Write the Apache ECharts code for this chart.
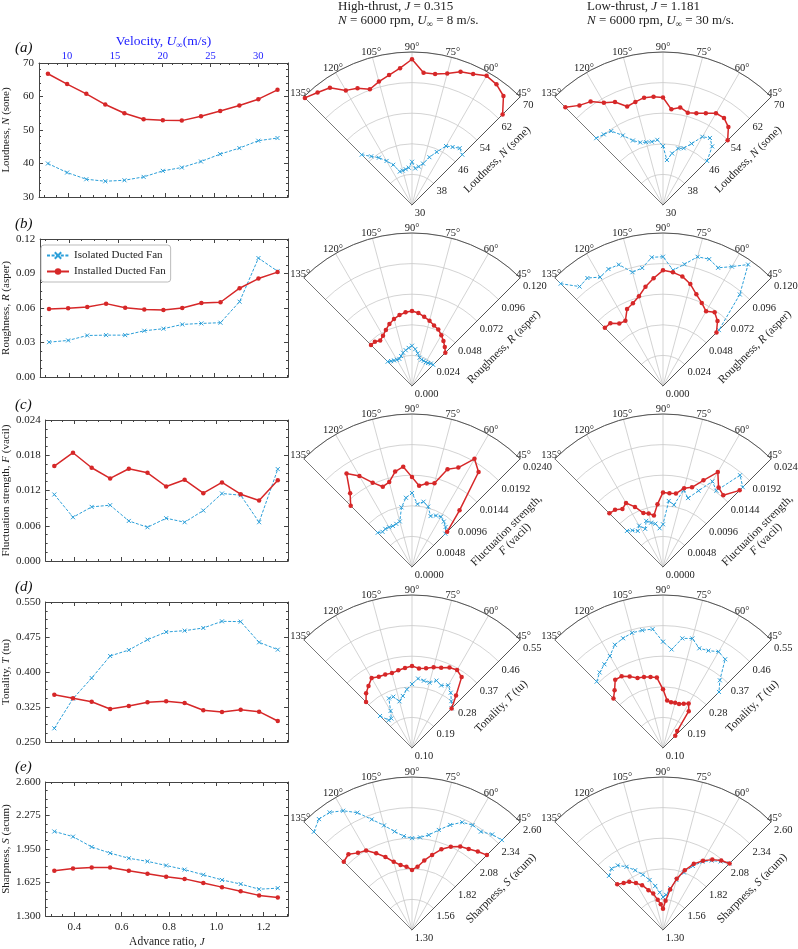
<!DOCTYPE html>
<html><head><meta charset="utf-8">
<script src="https://cdn.jsdelivr.net/npm/echarts@6/dist/echarts.min.js"></script>
<style>html,body{margin:0;padding:0;background:#fff}#c{width:798px;height:949px}</style>
</head><body><div id="c"></div>
<script>
// ---------------- data ----------------
const VEL = [8,10,12,14,16,18,20,22,24,26,28,30,32];
const J = [0.315,0.394,0.473,0.551,0.630,0.709,0.788,0.866,0.945,1.024,1.103,1.181,1.260];
const J_TICKS = [0.4,0.6,0.8,1.0,1.2];
const VEL_TICKS = [10,15,20,25,30];
const ANG = [135,130,125,120,115,110,105,100,95,90,85,80,75,70,65,60,55,50,45];
const ANG_TICKS = [45,60,75,90,105,120,135];

// left column (vs advance ratio)
const ISO_N = [40.0,37.3,35.3,34.7,35.0,36.0,37.8,38.8,40.6,42.8,44.6,46.8,47.6];
const INS_N = [66.8,63.7,60.8,57.6,55.0,53.2,52.9,52.8,54.1,55.7,57.3,59.2,62.0];
const ISO_R = [0.0303,0.0318,0.0361,0.0364,0.0364,0.0402,0.0420,0.0457,0.0466,0.0472,0.0655,0.1034,0.0920];
const INS_R = [0.0591,0.0597,0.0609,0.0638,0.0603,0.0588,0.0583,0.0600,0.0644,0.0650,0.0772,0.0856,0.0912];
const ISO_F = [0.01132,0.00745,0.00921,0.00950,0.00682,0.00574,0.00728,0.00660,0.00859,0.01149,0.01120,0.00660,0.01564];
const INS_F = [0.01615,0.01843,0.01587,0.01405,0.01570,0.01501,0.01268,0.01382,0.01155,0.01337,0.01137,0.01030,0.01376];
const ISO_T = [0.2793,0.3429,0.3871,0.4343,0.4471,0.4693,0.4857,0.4886,0.4943,0.5086,0.5079,0.4636,0.4479];
const INS_T = [0.3514,0.3436,0.3364,0.3207,0.3271,0.3350,0.3371,0.3336,0.3179,0.3143,0.3193,0.3150,0.2950];
const ISO_S = [2.12,2.07,1.97,1.91,1.86,1.83,1.79,1.75,1.70,1.65,1.61,1.56,1.57];
const INS_S = [1.74,1.76,1.77,1.77,1.74,1.71,1.68,1.66,1.62,1.58,1.54,1.50,1.48];

// polar, high thrust (J = 0.315)
const HI_INS_N = [69.6,68.4,67.4,64.6,63.7,62.2,63.4,64.5,65.9,68.1,64.7,64.8,65.6,67.1,67.8,69.0,68.5,67.2,63.5];
const HI_ISO_N = [48.6,46.6,45.1,43.3,41.6,39.3,39.3,39.5,39.8,41.3,39.6,40.2,41.2,43.3,45.3,47.8,48.5,49.4,48.6];
const HI_INS_R = [0.0455,0.0453,0.0435,0.0455,0.0485,0.0518,0.0545,0.0565,0.0580,0.0588,0.0575,0.0551,0.0530,0.0505,0.0488,0.0460,0.0430,0.0400,0.0370];
const HI_ISO_R = [0.0270,0.0255,0.0245,0.0238,0.0235,0.0250,0.0270,0.0285,0.0300,0.0316,0.0290,0.0260,0.0230,0.0220,0.0218,0.0215,0.0220,0.0230,0.0235];
const HI_INS_F = [0.0136,0.0151,0.0179,0.0165,0.0146,0.0134,0.0138,0.0152,0.0158,0.0141,0.0128,0.0133,0.0136,0.0163,0.0172,0.0196,0.0182,0.0116,0.0078];
const HI_ISO_F = [0.0076,0.0072,0.0073,0.0072,0.0071,0.0072,0.0074,0.0095,0.0109,0.0116,0.0099,0.0104,0.0098,0.0085,0.0089,0.0091,0.0087,0.0082,0.0074];
const HI_INS_T = [0.291,0.310,0.323,0.3375,0.331,0.330,0.328,0.332,0.336,0.341,0.335,0.338,0.346,0.351,0.361,0.365,0.3545,0.3015,0.2647];
const HI_ISO_T = [0.233,0.207,0.206,0.226,0.261,0.2606,0.242,0.2554,0.273,0.288,0.305,0.301,0.299,0.311,0.303,0.313,0.2986,0.280,0.265];
const HI_INS_S = [2.12,2.14,2.10,2.08,2.02,1.96,1.90,1.86,1.84,1.81,1.84,1.90,1.96,2.03,2.08,2.12,2.14,2.17,2.20];
const HI_ISO_S = [2.48,2.53,2.52,2.47,2.40,2.30,2.22,2.15,2.10,2.08,2.09,2.12,2.18,2.25,2.31,2.33,2.32,2.36,2.38];

// polar, low thrust (J = 1.181)
const LO_INS_N = [66.1,64.0,63.0,60.9,59.7,57.4,57.9,58.5,58.4,58.1,55.1,55.9,55.0,55.5,56.5,57.7,57.8,56.6,53.9];
const LO_ISO_N = [54.7,54.1,53.6,51.0,48.6,47.4,47.0,46.8,47.1,45.4,41.8,43.7,45.3,45.8,47.7,50.6,51.4,50.0,46.3];
const LO_INS_R = [0.0645,0.0642,0.0598,0.0590,0.0667,0.0690,0.0729,0.0791,0.0848,0.0907,0.0895,0.0873,0.0828,0.0765,0.0719,0.0676,0.0706,0.0665,0.0593];
const LO_ISO_R = [0.1135,0.1018,0.1034,0.0986,0.1012,0.1013,0.0924,0.0940,0.1013,0.1014,0.0912,0.0970,0.1049,0.1059,0.1023,0.1081,0.1163,0.0937,0.0620];
const LO_INS_F = [0.0119,0.0117,0.0111,0.0116,0.0104,0.0090,0.0087,0.0082,0.0099,0.0117,0.0116,0.0117,0.0128,0.0133,0.0150,0.0172,0.0152,0.0147,0.0170];
const LO_ISO_F = [0.0080,0.0075,0.0069,0.0075,0.0066,0.0077,0.0072,0.0069,0.0061,0.0067,0.0104,0.0099,0.0125,0.0115,0.0132,0.0155,0.0146,0.0188,0.0177];
const LO_INS_T = [0.306,0.3215,0.345,0.3435,0.332,0.319,0.316,0.3117,0.308,0.2725,0.240,0.237,0.238,0.238,0.244,0.251,0.232,0.165,0.151];
const LO_ISO_T = [0.376,0.390,0.4006,0.4125,0.435,0.4435,0.4507,0.4515,0.451,0.4127,0.391,0.4274,0.4335,0.412,0.416,0.427,0.4187,0.360,0.333];
const LO_INS_S = [1.85,1.82,1.80,1.76,1.72,1.66,1.62,1.56,1.52,1.48,1.55,1.65,1.75,1.84,1.92,1.98,2.03,2.07,2.10];
const LO_ISO_S = [1.95,1.98,1.97,1.92,1.86,1.80,1.74,1.68,1.62,1.58,1.60,1.66,1.74,1.82,1.90,1.97,2.02,2.06,2.10];

const ISO_NAME = 'Isolated Ducted Fan';
const INS_NAME = 'Installed Ducted Fan';

// ---------------- layout / style ----------------
const FONT = '"Liberation Serif","DejaVu Serif",serif';
const RED = '#d62728', BLUE = '#2b9fd9', AX = '#444', TXT = '#222', GRIDC = '#c8c8c8', VBLUE = '#1a1aff';
const JMIN = 0.2783, JMAX = 1.3032, JPERU = 0.039375;
const TOPS = [63,239,420,602,782], HEIGHTS = [134,138,141,140,139];
const VX = [412,663], VY = [205,386,567,748,930], PR = 153, ALABEL_PAD = 5;
const HEAD_X = [338,587];
const RICH = {i:{fontStyle:'italic',fontFamily:FONT,fontSize:11,color:TXT}};
const RRICH = {i:{fontStyle:'italic',fontFamily:FONT,fontSize:11.5,color:TXT}};

const rows = [
 {lab:'(a)', name:'Loudness, {i|N} (sone)', y:[30,70,10,0], r:[30,70,8,0], iso:ISO_N, ins:INS_N, hi:[HI_ISO_N,HI_INS_N], lo:[LO_ISO_N,LO_INS_N]},
 {lab:'(b)', name:'Roughness, {i|R} (asper)', y:[0,0.12,0.03,2], r:[0,0.12,0.024,3], iso:ISO_R, ins:INS_R, hi:[HI_ISO_R,HI_INS_R], lo:[LO_ISO_R,LO_INS_R]},
 {lab:'(c)', name:'Fluctuation strength, {i|F} (vacil)', rname:'Fluctuation strength,\n{i|F} (vacil)', y:[0,0.024,0.006,3], r:[0,0.024,0.0048,4], iso:ISO_F, ins:INS_F, hi:[HI_ISO_F,HI_INS_F], lo:[LO_ISO_F,LO_INS_F]},
 {lab:'(d)', name:'Tonality, {i|T} (tu)', y:[0.25,0.55,0.075,3], r:[0.10,0.55,0.09,2], iso:ISO_T, ins:INS_T, hi:[HI_ISO_T,HI_INS_T], lo:[LO_ISO_T,LO_INS_T]},
 {lab:'(e)', name:'Sharpness, {i|S} (acum)', y:[1.3,2.6,0.325,3], r:[1.30,2.60,0.26,2], iso:ISO_S, ins:INS_S, hi:[HI_ISO_S,HI_INS_S], lo:[LO_ISO_S,LO_INS_S]}
];

const J_MINOR = [];
for (let k = 6; k <= 26; k++) if (k % 4 !== 0) J_MINOR.push(+(k*0.05).toFixed(2));
const VEL_MINOR = [];
for (let v = 8; v <= 33; v++) if (v % 5 !== 0) VEL_MINOR.push(v);

const isoStyle = {
  name: ISO_NAME, type:'line', symbol:'path://M0,0L10,10M10,0L0,10', symbolSize:4, showAllSymbol:true,
  lineStyle:{color:BLUE, width:1, type:[3,1.6]}, itemStyle:{color:BLUE, borderColor:BLUE, borderWidth:1}, z:3
};
const insStyle = {
  name: INS_NAME, type:'line', symbol:'circle', symbolSize:4.5, showAllSymbol:true,
  lineStyle:{color:RED, width:1.5}, itemStyle:{color:RED}, z:4
};

const grid=[], xAxis=[], yAxis=[], series=[], polar=[], angleAxis=[], radiusAxis=[], graphic=[];
const polarSeriesIdx = [];
const lbl = {fontFamily:FONT, fontSize:11, color:TXT};
const plbl = {fontFamily:FONT, fontSize:10.5, color:TXT};

rows.forEach((r,i)=>{
  const last = i === rows.length-1;
  grid.push({left:37, top:TOPS[i], width:251, height:HEIGHTS[i]});
  const base = {type:'value', gridIndex:i, min:JMIN, max:JMAX, splitLine:{show:false}};
  const xi = xAxis.length;
  xAxis.push({...base, position:'bottom',
    axisLine:{lineStyle:{color:AX,width:1}},
    axisTick:{inside:true, length:4, customValues:J_TICKS, lineStyle:{color:AX}},
    axisLabel:{show:last, customValues:J_TICKS, formatter:v=>v.toFixed(1), ...lbl, margin:6},
    name:last?'Advance ratio, {i|J}':'', nameLocation:'middle', nameGap:20,
    nameTextStyle:{...lbl, fontSize:11.5, rich:RICH}});
  xAxis.push({...base, position:'bottom', axisLine:{show:false},
    axisTick:{inside:true, length:2, customValues:J_MINOR, lineStyle:{color:AX}}, axisLabel:{show:false}});
  if (i === 0) {
    const vb = {type:'value', gridIndex:i, min:JMIN/JPERU, max:JMAX/JPERU, position:'top', splitLine:{show:false}};
    xAxis.push({...vb, axisLine:{lineStyle:{color:AX}},
      axisTick:{inside:true, length:4, customValues:VEL_TICKS, lineStyle:{color:AX}},
      axisLabel:{customValues:VEL_TICKS, fontFamily:FONT, fontSize:10.5, color:VBLUE, margin:1},
      name:'Velocity, {i|U}{s|∞}(m/s)', nameLocation:'middle', nameGap:13,
      nameTextStyle:{fontFamily:FONT, fontSize:13.5, color:VBLUE,
        rich:{i:{fontStyle:'italic',fontFamily:FONT,fontSize:13.5,color:VBLUE}, s:{fontFamily:FONT,fontSize:9,color:VBLUE,padding:[8,0,0,0]}}}});
    xAxis.push({...vb, axisLine:{show:false},
      axisTick:{inside:true, length:2, customValues:VEL_MINOR, lineStyle:{color:AX}}, axisLabel:{show:false}});
  } else {
    xAxis.push({...base, position:'top', axisLine:{lineStyle:{color:AX}},
      axisTick:{inside:true, length:4, customValues:J_TICKS, lineStyle:{color:AX}}, axisLabel:{show:false}});
    xAxis.push({...base, position:'top', axisLine:{show:false},
      axisTick:{inside:true, length:2, customValues:J_MINOR, lineStyle:{color:AX}}, axisLabel:{show:false}});
  }
  const [ymin,ymax,yint,ydec] = r.y;
  const yb = {type:'value', gridIndex:i, min:ymin, max:ymax, interval:yint, splitLine:{show:false},
    axisLine:{show:true, lineStyle:{color:AX}}, axisTick:{show:true, inside:true, length:4, lineStyle:{color:AX}},
    minorTick:{show:true, splitNumber:(ydec===0?5:4), length:2, lineStyle:{color:AX}}};
  const yi = yAxis.length;
  yAxis.push({...yb, position:'left',
    axisLabel:{formatter:v=>v.toFixed(ydec), ...lbl, margin:5},
    name:r.name, nameLocation:'middle', nameGap:27, nameTextStyle:{...lbl, rich:RICH}});
  yAxis.push({...yb, position:'right', axisLabel:{show:false}});
  series.push({...isoStyle, xAxisIndex:xi, yAxisIndex:yi, data:J.map((x,k)=>[x, r.iso[k]])});
  series.push({...insStyle, xAxisIndex:xi, yAxisIndex:yi, data:J.map((x,k)=>[x, r.ins[k]])});

  graphic.push({type:'text', left:15, top:TOPS[i]-22, style:{text:r.lab, font:'italic 15px '+FONT, fill:'#111'}});

  const [rmin,rmax,rint,rdec] = r.r;
  [0,1].forEach(c=>{
    const pi = polar.length;
    polar.push({center:[VX[c], VY[i]], radius:PR});
    angleAxis.push({polarIndex:pi, type:'value', min:45, max:135, interval:15,
      startAngle:45, endAngle:135, clockwise:false,
      axisLine:{lineStyle:{color:'#555', width:1}}, axisTick:{show:false},
      axisLabel:{show:false},
      splitLine:{show:true, lineStyle:{color:['#555',GRIDC,GRIDC,GRIDC,GRIDC,GRIDC,'#555'], width:0.8}}});
    radiusAxis.push({polarIndex:pi, type:'value', min:rmin, max:rmax, interval:rint,
      axisLine:{lineStyle:{color:'#555', width:1}}, axisTick:{show:false},
      axisLabel:{formatter:v=>v.toFixed(rdec), ...plbl, margin:-4, align:'left', verticalAlign:'top'},
      splitLine:{show:true, lineStyle:{color:GRIDC, width:0.8}},
      name:r.rname||r.name, nameLocation:'middle', nameGap:20,
      nameTextStyle:{...plbl, fontSize:11.5, rich:RRICH, padding:[0,0,0,32]}});
    const pair = c===0 ? r.hi : r.lo;
    polarSeriesIdx.push({si:series.length, rmin, rmax});
    series.push({...isoStyle, coordinateSystem:'polar', polarIndex:pi, data:pair[0].map((v,k)=>[v, ANG[k]])});
    series.push({...insStyle, coordinateSystem:'polar', polarIndex:pi, data:pair[1].map((v,k)=>[v, ANG[k]])});
  });
});

const HRICH = {i:{font:'italic 13px '+FONT, fill:TXT}, s:{font:'9px '+FONT, fill:TXT, padding:[7,0,0,0]}};
const head = (x,y,t)=>({type:'text', x, y, style:{text:t, font:'13px '+FONT, fill:TXT, align:'left', verticalAlign:'middle', rich:HRICH}});
graphic.push(head(HEAD_X[0], 7, 'High-thrust, {i|J} = 0.315'));
graphic.push(head(HEAD_X[0], 21, '{i|N} = 6000 rpm, {i|U}{s|∞} = 8 m/s.'));
graphic.push(head(HEAD_X[1], 7, 'Low-thrust, {i|J} = 1.181'));
graphic.push(head(HEAD_X[1], 21, '{i|N} = 6000 rpm, {i|U}{s|∞} = 30 m/s.'));

const chart = echarts.init(document.getElementById('c'));
chart.setOption({
  animation:false, backgroundColor:'#fff',
  legend:{show:true, left:41, top:245, orient:'vertical', data:[ISO_NAME, INS_NAME],
    itemWidth:22, itemHeight:8, itemGap:5, padding:[5,5], borderColor:'#bbb', borderWidth:1, borderRadius:3,
    backgroundColor:'#fff', textStyle:{fontFamily:FONT, fontSize:11, color:TXT}},
  grid, xAxis, yAxis, polar, angleAxis, radiusAxis, series, graphic
});

// angle tick labels centred just outside the arc (matplotlib style), placed through the polar scale
const angleLabels = [];
polarSeriesIdx.forEach(p=>{
  const rr = p.rmax + (p.rmax - p.rmin) * ALABEL_PAD / PR;
  ANG_TICKS.forEach(a=>{
    const pt = chart.convertToPixel({seriesIndex:p.si}, [rr, a]);
    if (pt) angleLabels.push({type:'text', x:pt[0], y:pt[1],
      style:{text:a+'°', font:'10.5px '+FONT, fill:TXT, align:'center', verticalAlign:'middle'}, z:10});
  });
});
chart.setOption({graphic: graphic.concat(angleLabels)});
</script></body></html>
